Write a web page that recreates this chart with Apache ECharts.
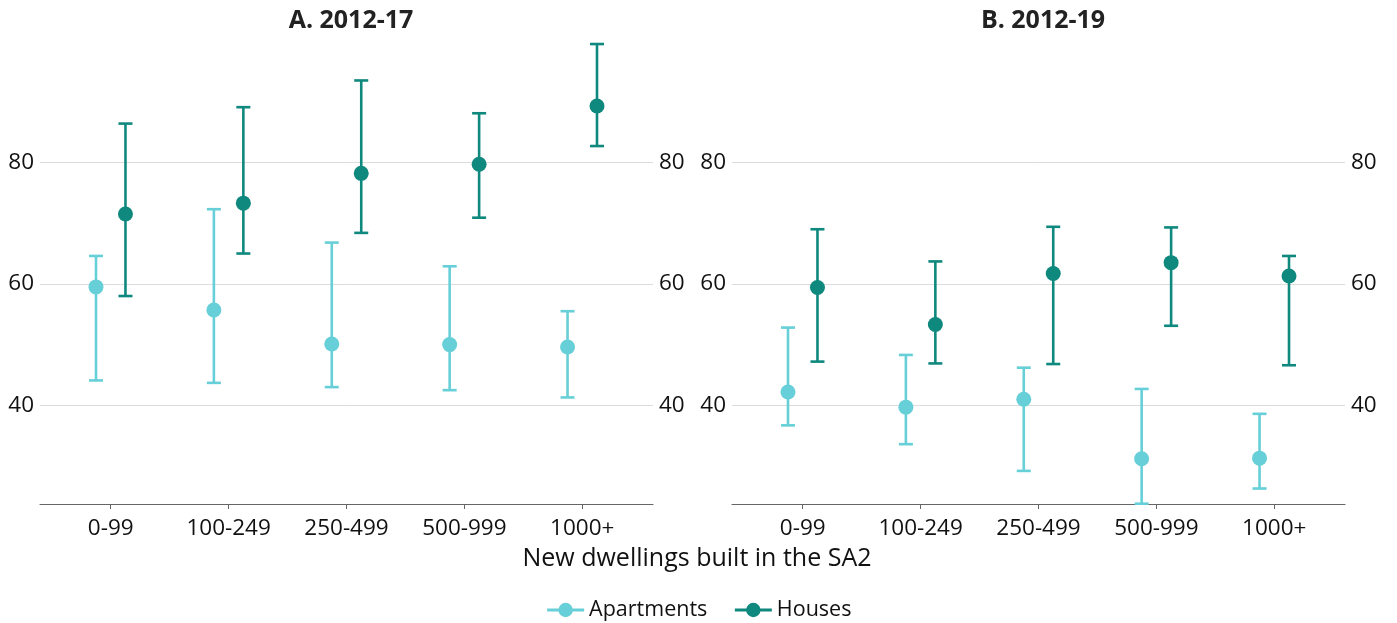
<!doctype html>
<html lang="en">
<head>
    <meta charset="UTF-8">
    <title>New dwellings built in the SA2</title>
    <style>
        html, body { margin: 0; padding: 0; background: #fff; }
        #main { width: 1397px; height: 623px; }
    </style>
    <script src="https://cdn.jsdelivr.net/npm/echarts@6/dist/echarts.min.js"></script>
</head>
<body>
<div id="main"></div>
<script type="text/javascript">
    // categories and tick labels
    var categories = ['0-99', '100-249', '250-499', '500-999', '1000+'];
    var yTicks = [40, 60, 80];

    // A. 2012-17
    var aptA    = [59.5, 55.7, 50.1, 50.0, 49.6];
    var aptA_lo = [44.1, 43.7, 43.0, 42.5, 41.3];
    var aptA_hi = [64.6, 72.3, 66.8, 62.9, 55.5];
    var houA    = [71.5, 73.3, 78.2, 79.7, 89.3];
    var houA_lo = [58.0, 65.0, 68.4, 70.9, 82.7];
    var houA_hi = [86.4, 89.1, 93.5, 88.1, 99.5];

    // B. 2012-19
    var aptB    = [42.2, 39.7, 41.0, 31.2, 31.3];
    var aptB_lo = [36.7, 33.6, 29.2, 23.8, 26.3];
    var aptB_hi = [52.8, 48.3, 46.2, 42.7, 38.6];
    var houB    = [59.4, 53.3, 61.7, 63.5, 61.3];
    var houB_lo = [47.2, 46.9, 46.8, 53.1, 46.6];
    var houB_hi = [69.0, 63.7, 69.4, 69.3, 64.6];

    var cApt = '#66cfd7';
    var cHou = '#0f887e';
    var font = 'Open Sans';
    var dodge = 0.125;

    function pointSeries(name, vals, color, off, gi) {
        return {
            type: 'line', name: name, xAxisIndex: gi, yAxisIndex: gi * 2, z: 5,
            data: vals.map(function (v, i) { return [i + off, v]; }),
            symbol: 'circle', symbolSize: 15, showSymbol: true,
            lineStyle: { width: 0, color: color },
            itemStyle: { color: color },
            emphasis: { disabled: true },
            silent: true
        };
    }

    function errorSeries(name, lo, hi, color, off, gi) {
        return {
            type: 'custom', name: name, xAxisIndex: gi, yAxisIndex: gi * 2, z: 3,
            data: lo.map(function (l, i) { return [i + off, l, hi[i]]; }),
            encode: { x: 0, y: [1, 2] },
            silent: true,
            renderItem: function (params, api) {
                var x = api.value(0);
                var a = api.coord([x, api.value(1)]);
                var b = api.coord([x, api.value(2)]);
                var w = 7;
                var st = { stroke: color, lineWidth: 2.6 };
                return {
                    type: 'group',
                    children: [
                        { type: 'line', shape: { x1: a[0], y1: a[1], x2: b[0], y2: b[1] }, style: st },
                        { type: 'line', shape: { x1: a[0] - w, y1: a[1], x2: a[0] + w, y2: a[1] }, style: st },
                        { type: 'line', shape: { x1: b[0] - w, y1: b[1], x2: b[0] + w, y2: b[1] }, style: st }
                    ]
                };
            }
        };
    }

    function xAxisFor(gi) {
        return {
            type: 'value', gridIndex: gi, min: -0.6, max: 4.6,
            axisLine: { show: true, lineStyle: { color: '#666', width: 1.2 } },
            axisTick: { show: true, customValues: [0, 1, 2, 3, 4], length: 5, lineStyle: { color: '#666' } },
            axisLabel: {
                customValues: [0, 1, 2, 3, 4], margin: 13,
                fontFamily: font, fontSize: 22.5, color: '#111',
                formatter: function (v) { return categories[Math.round(v)]; }
            },
            splitLine: { show: false }
        };
    }

    function yAxisFor(gi, pos) {
        return {
            type: 'value', gridIndex: gi, position: pos, min: 23.75, max: 100,
            axisLine: { show: false },
            axisTick: { show: false, customValues: yTicks },
            axisLabel: { customValues: yTicks, margin: 6, fontFamily: font, fontSize: 22.5, color: '#111' },
            splitLine: { show: pos === 'left', lineStyle: { color: '#dcdcdc', width: 1 } }
        };
    }

    var myChart = echarts.init(document.getElementById('main'));
    myChart.setOption({
        animation: false,
        textStyle: { fontFamily: font },
        title: [
            { text: 'A. 2012-17', left: 346, top: 3, textAlign: 'center',
              textStyle: { fontFamily: font, fontSize: 25, fontWeight: 'bold', color: '#222' } },
            { text: 'B. 2012-19', left: 1038, top: 3, textAlign: 'center',
              textStyle: { fontFamily: font, fontSize: 25, fontWeight: 'bold', color: '#222' } },
            { text: 'New dwellings built in the SA2', left: 692, top: 541, textAlign: 'center',
              textStyle: { fontFamily: font, fontSize: 25, fontWeight: 'normal', color: '#111' } }
        ],
        legend: {
            data: ['Apartments', 'Houses'],
            top: 594, left: 'center',
            itemWidth: 37, itemHeight: 18, itemGap: 26,
            textStyle: { fontFamily: font, fontSize: 21.5, color: '#111' },
            lineStyle: { width: 3, opacity: 1 },
            selectedMode: false
        },
        grid: [
            { left: 40, right: 744, top: 41, bottom: 119, outerBoundsMode: 'none' },
            { left: 732, right: 52, top: 41, bottom: 119, outerBoundsMode: 'none' }
        ],
        xAxis: [xAxisFor(0), xAxisFor(1)],
        yAxis: [yAxisFor(0, 'left'), yAxisFor(0, 'right'), yAxisFor(1, 'left'), yAxisFor(1, 'right')],
        series: [
            pointSeries('Apartments', aptA, cApt, -dodge, 0),
            pointSeries('Houses', houA, cHou, dodge, 0),
            pointSeries('Apartments', aptB, cApt, -dodge, 1),
            pointSeries('Houses', houB, cHou, dodge, 1),
            errorSeries('Apartments', aptA_lo, aptA_hi, cApt, -dodge, 0),
            errorSeries('Houses', houA_lo, houA_hi, cHou, dodge, 0),
            errorSeries('Apartments', aptB_lo, aptB_hi, cApt, -dodge, 1),
            errorSeries('Houses', houB_lo, houB_hi, cHou, dodge, 1)
        ]
    });
</script>
</body>
</html>
